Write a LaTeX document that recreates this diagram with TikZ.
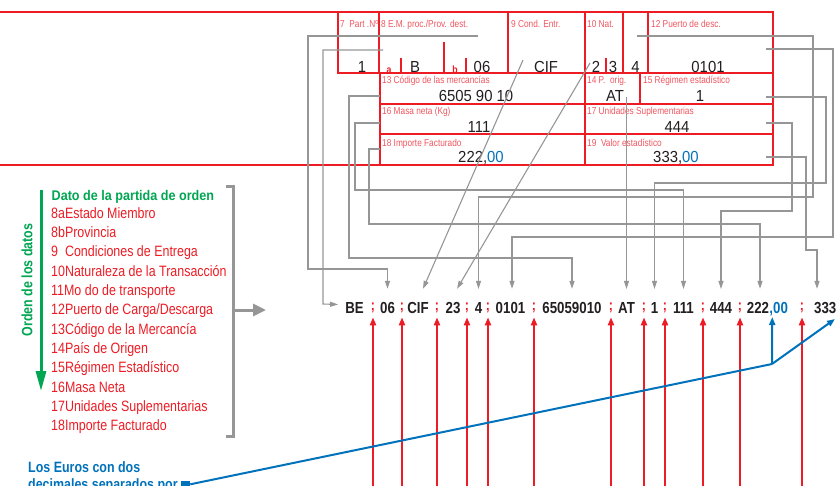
\documentclass[tikz,border=0pt]{standalone}
\usepackage{fontspec}
\setmainfont{Liberation Sans}
\newfontfamily\cond[FakeStretch=0.83]{Liberation Sans}
\newfontfamily\condt[FakeStretch=0.9]{Liberation Sans}
\newfontfamily\valf[FakeStretch=0.93]{Liberation Sans}
\usetikzlibrary{arrows.meta}
\definecolor{fred}{RGB}{237,28,36}
\definecolor{flab}{RGB}{240,85,95}
\definecolor{fgray}{RGB}{150,150,150}
\definecolor{fgreen}{RGB}{0,166,81}
\definecolor{fblue}{RGB}{0,114,188}
\definecolor{ftext}{RGB}{35,31,32}
\begin{document}
\begin{tikzpicture}[x=1pt,y=-1pt,
  box/.style={draw=fred,line width=2pt},
  thinred/.style={draw=fred,line width=1.2pt},
  tick/.style={draw=fred,line width=1.5pt},
  lab/.style={anchor=base west,inner sep=0pt,text=flab,font=\cond\fontsize{10}{11}\selectfont},
  sub/.style={anchor=base,inner sep=0pt,text=fred,font=\cond\bfseries\fontsize{10.5}{11}\selectfont},
  val/.style={anchor=base,inner sep=0pt,text=ftext,font=\valf\fontsize{16}{18}\selectfont},
  tok/.style={anchor=base,inner sep=0pt,outer ysep=13pt,text=ftext,font=\cond\bfseries\fontsize{16}{18}\selectfont},
  semi/.style={anchor=base,inner sep=0pt,outer ysep=4.5pt,text=fred,font=\cond\bfseries\fontsize{15}{18}\selectfont},
  item/.style={anchor=base west,inner sep=0pt,text=fred,font=\cond\fontsize{15}{18}\selectfont},
  gline/.style={draw=fgray,line width=1.1pt},
  garrow/.style={gline,-{Triangle[width=5pt,length=8pt]}},
  rarrow/.style={draw=fred,line width=2pt,-{Triangle[width=6pt,length=8pt]}},
  bline/.style={draw=fblue,line width=2pt},
  barrow/.style={bline,-{Triangle[width=6pt,length=8pt]}},
]
\useasboundingbox (0,0) rectangle (836,485);

% ---------------- form ----------------
\draw[thinred] (0,12) -- (338,12);
\draw[thinred] (0,165) -- (380,165);
\draw[box] (338,12) rectangle (773,73);
\foreach \x in {379,508,585,623,648} \draw[box] (\x,12) -- (\x,73);
\draw[box] (380,73) rectangle (773,165);
\draw[box] (380,104) -- (773,104);
\draw[box] (380,134) -- (773,134);
\draw[box] (585,73) -- (585,165);
\draw[box] (640,73) -- (640,104);
\draw[tick] (401,58) -- (401,73);
\draw[tick] (444,42) -- (444,73);
\draw[tick] (466,58) -- (466,73);
\draw[tick] (606,58) -- (606,73);
\node[sub] (suba) at (389,73) {a};
\node[sub] (subb) at (455,73) {b};

\node[lab] (l7)  at (340,27) {7\ \ Part .Nº};
\node[lab] (l8)  at (381,27) {8 E.M. proc./Prov. dest.};
\node[lab] (l9)  at (511,27) {9 Cond. Entr.};
\node[lab] (l10) at (587,27) {10 Nat.};
\node[lab] (l12) at (651,27) {12 Puerto de desc.};
\node[lab] (l13) at (382,83) {13 Código de las mercancías};
\node[lab] (l14) at (587,83) {14 P.\ \ orig.};
\node[lab] (l15) at (643,83) {15 Régimen estadístico};
\node[lab] (l16) at (382,114) {16 Masa neta (Kg)};
\node[lab] (l17) at (587,114) {17 Unidades Suplementarias};
\node[lab] (l18) at (382,146) {18 Importe Facturado};
\node[lab] (l19) at (587,146) {19\ \ Valor estadístico};

\node[val] (v1)    at (362,72) {1};
\node[val] (vB)    at (415,72) {B};
\node[val] (v06)   at (482,72) {06};
\node[val] (vCIF)  at (546,72) {CIF};
\node[val] (v2)    at (596,72) {2};
\node[val] (v3)    at (613,72) {3};
\node[val] (v4)    at (635.5,72) {4};
\node[val] (v0101) at (708,72) {0101};
\node[val] (v6505) at (476,101) {6505 90 10};
\node[val] (vAT)   at (615,101) {AT};
\node[val] (vReg)  at (700,101) {1};
\node[val] (v111)  at (479,132) {111};
\node[val] (v444)  at (677,132) {444};
\node[val] (v222)  at (481,162) {222,\textcolor{fblue}{00}};
\node[val] (v333)  at (676,162) {333,\textcolor{fblue}{00}};

% ---------------- output line ----------------
\node[tok] (oBE)   at (354.5,313) {BE};
\node[tok] (o06)   at (387.5,313) {06};
\node[tok] (oCIF)  at (418,313) {CIF};
\node[tok] (o23)   at (453,313) {23};
\node[tok] (o4)    at (478.5,313) {4};
\node[tok] (o0101) at (510.5,313) {0101};
\node[tok] (o6505) at (572,313) {65059010};
\node[tok] (oAT)   at (626.5,313) {AT};
\node[tok] (o1)    at (654.5,313) {1};
\node[tok] (o111)  at (683.5,313) {111};
\node[tok] (o444)  at (721,313) {444};
\node[tok] (o222)  at (758,313) {222};
\node[tok,anchor=base west,outer ysep=0pt,text=fblue] (o00) at (o222.base east) {,00};
\node[tok,anchor=base west] (o333) at (814,313) {333};

\foreach \i/\x in {1/373,2/402,3/437,4/467,5/488,6/534,7/611,8/644,9/665,10/703,11/740,12/802}
  \node[semi] (sc\i) at (\x,310.5) {;};

% ---------------- gray connectors ----------------
\coordinate (sBE)   at (383,50);
\coordinate (s06)   at (478,36);
\coordinate (sCIF)  at (523,60);
\coordinate (s23)   at (590,63);
\coordinate (s4)    at (637,36);
\coordinate (s0101) at (766,49);
\coordinate (s6505) at (380,96);
\coordinate (sAT)   at (626.5,97);
\coordinate (sReg)  at (766,97);
\coordinate (s111)  at (380,123);
\coordinate (s444)  at (766,123);
\coordinate (s222)  at (380,149);
\coordinate (s333)  at (766,157);

\draw[garrow] (sBE) -- (323,50) -- (323,304) -- ([xshift=-7pt,yshift=3pt]oBE.west);
\draw[garrow] (s06) -- (308,36) -- (308,269) -| (o06.north);
\draw[garrow] (sCIF) -- ([xshift=5pt]oCIF.north);
\draw[garrow] (s23) -- ([xshift=4pt]o23.north);
\draw[garrow] (s4) -- (813,36) -- (813,197) -| (o4.north);
\draw[garrow] (s0101) -- (833,49) -- (833,237) -| ([xshift=1.5pt]o0101.north);
\draw[garrow] (s6505) -- (349,96) -- (349,258) -| (o6505.north);
\draw[garrow] (sAT) -- (oAT.north);
\draw[garrow] (sReg) -- (826,97) -- (826,183) -| (o1.north);
\draw[garrow] (s111) -- (355,123) -- (355,190) -| (o111.north);
\draw[garrow] (s444) -- (792,123) -- (792,211) -| (o444.north);
\draw[garrow] (s222) -- (369,149) -- (369,224) -| ([xshift=2pt]o222.north);
\draw[garrow] (s333) -- (806,157) -- (806,250) -| ([xshift=3pt]o333.north west);

% ---------------- red arrows from below ----------------
\coordinate (bot) at (0,490);
\foreach \i in {1,...,12}
  \draw[rarrow] (sc\i.south |- bot) -- (sc\i.south);

% ---------------- left legend ----------------
\node[anchor=base west,inner sep=0pt,text=fgreen,font=\condt\bfseries\fontsize{14}{16}\selectfont] (title) at (51.5,200) {Dato de la partida de orden};
\foreach \i/\t in {0/{8aEstado Miembro},1/{8bProvincia},2/{9\ \ Condiciones de Entrega},3/{10Naturaleza de la Transacción},4/{11Mo do de transporte},5/{12Puerto de Carga/Descarga},6/{13Código de la Mercancía},7/{14País de Origen},8/{15Régimen Estadístico},9/{16Masa Neta},10/{17Unidades Suplementarias},11/{18Importe Facturado}}
  \node[item] (it\i) at (51,218+19.36*\i) {\t};
\node[rotate=90,inner sep=0pt,text=fgreen,font=\cond\bfseries\fontsize{15}{18}\selectfont] (ord) at (27,280) {Orden de los datos};
\coordinate (gtop) at (41,190);
\coordinate (gbot) at (41,391);
\draw[draw=fgreen,line width=3pt,-{Triangle[width=10pt,length=20pt]}] (gtop) -- (gbot);
\draw[draw=fgray,line width=3pt] (226,186) -- (233,186) -- (233,436) -- (226,436);
\coordinate (brk) at (233,310);
\coordinate (brkt) at (266,310);
\draw[draw=fgray,line width=3pt,-{Triangle[width=12pt,length=13pt]}] (brk) -- (brkt);

% ---------------- euro note ----------------
\node[anchor=base west,inner sep=0pt,text=fblue,font=\cond\bfseries\fontsize{15}{18}\selectfont] (eu1) at (28,472) {Los Euros con dos};
\node[anchor=base west,inner sep=0pt,text=fblue,font=\cond\bfseries\fontsize{15}{18}\selectfont] (eu2) at (28,489) {decimales separados por};
\node[fill=fblue,inner sep=0pt,minimum size=9pt,anchor=south west] (sq) at ([xshift=3pt,yshift=-1pt]eu2.base east) {};
\coordinate (kink) at (772,364);
\coordinate (bend) at (835,319);
\draw[bline] ([yshift=1pt]sq.east) -- (kink);
\draw[barrow] (kink) -- (bend);
\draw[barrow] (kink) -- ([xshift=3pt,yshift=-4pt]o00.base west);
\end{tikzpicture}
\end{document}
